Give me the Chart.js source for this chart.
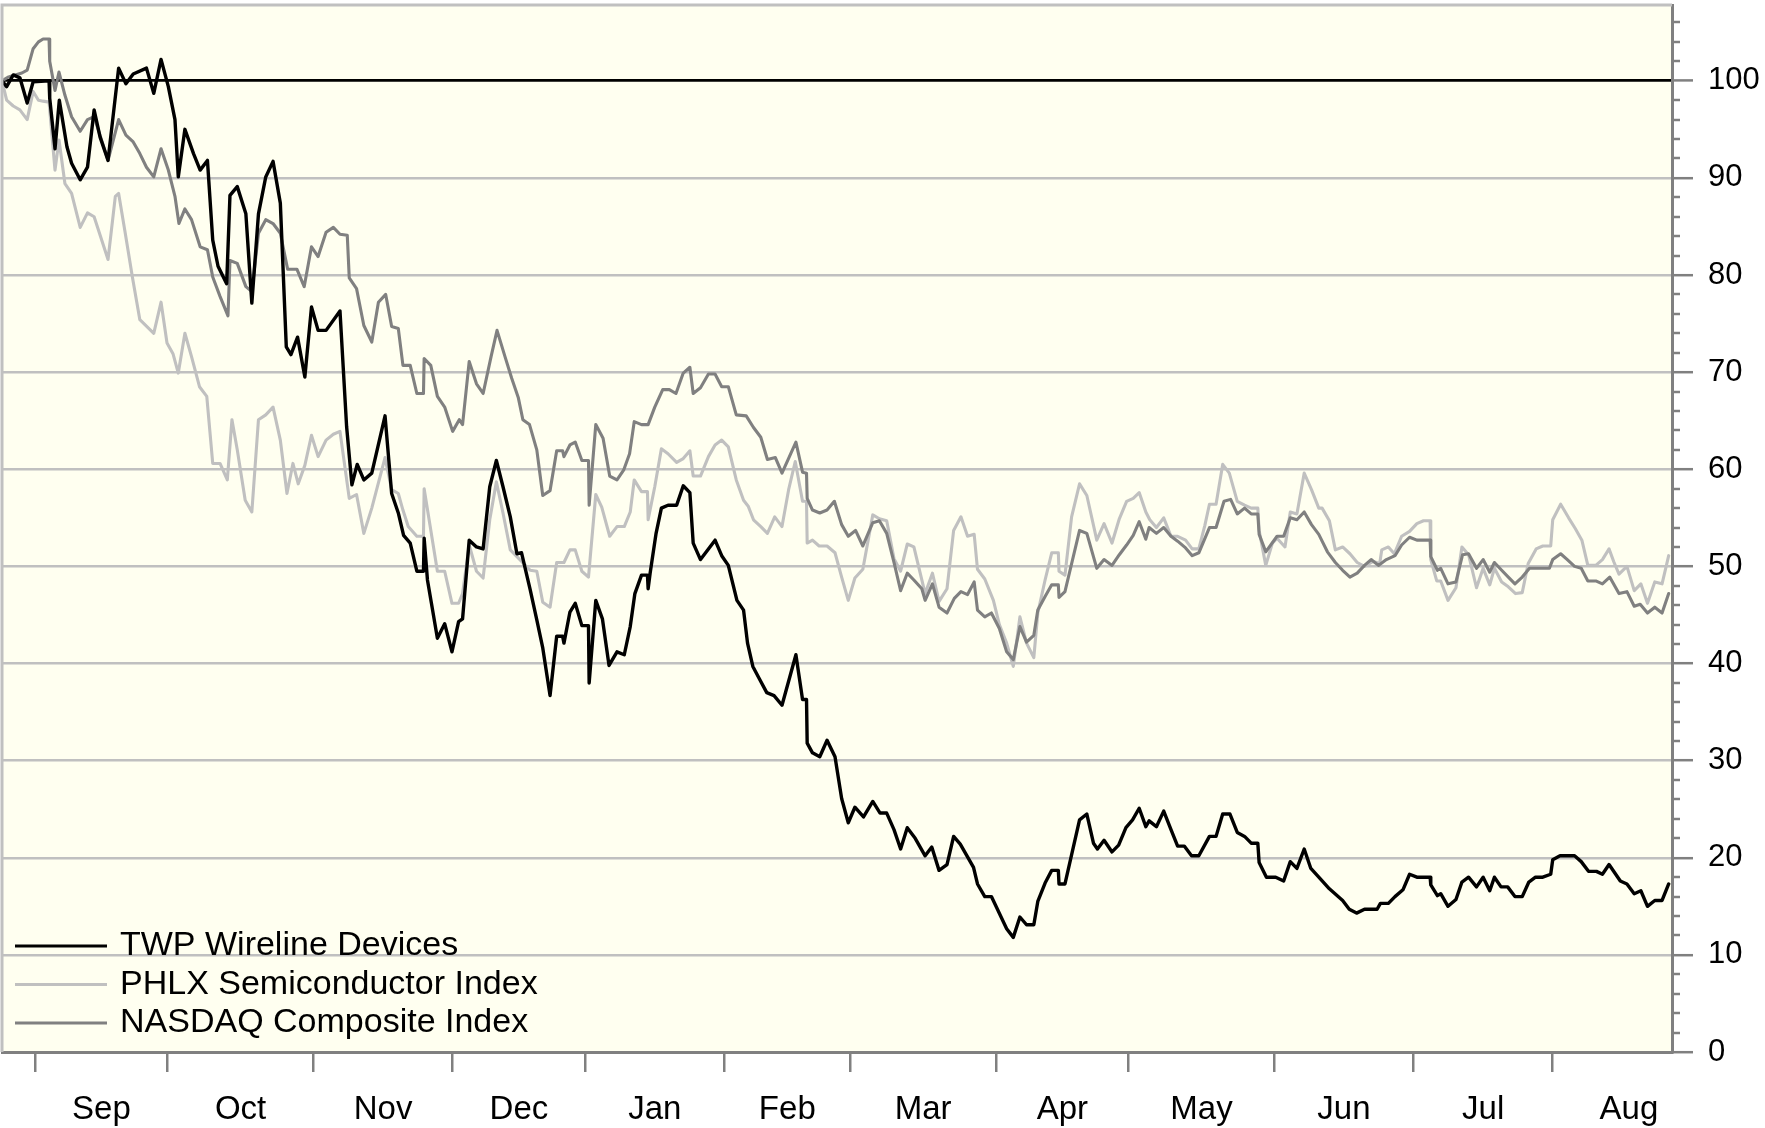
<!DOCTYPE html>
<html>
<head>
<meta charset="utf-8">
<script src="https://cdn.jsdelivr.net/npm/chart.js"></script>
<style>
  html, body { margin: 0; padding: 0; background: #ffffff; }
  #wrap { width: 1765px; height: 1128px; }
</style>
</head>
<body>
<div id="wrap"><canvas id="perfChart"></canvas></div>
<script>
// x = trading day since Aug 25 (day 0), y = indexed value (start = 100)
const monthNames = ['Sep', 'Oct', 'Nov', 'Dec', 'Jan', 'Feb', 'Mar', 'Apr', 'May', 'Jun', 'Jul', 'Aug'];
const monthStarts = [5, 25, 47, 68, 88, 109, 128, 150, 170, 192, 213, 234];
const monthEnd = 257;
const yTickValues = [0, 10, 20, 30, 40, 50, 60, 70, 80, 90, 100];
const seriesNames = ['TWP Wireline Devices', 'PHLX Semiconductor Index', 'NASDAQ Composite Index'];

const twpPoints = [
  [0,100],[0.7,99.4],[1.7,100.6],[2.7,100.3],[3.8,97.7],[4.7,99.9],[7.1,100],[7.2,98.2],[8.0,93],[8.65,98.0],
  [9.8,93.2],[10.5,91.5],[11.8,89.8],[12.9,91.1],[13.9,97.0],[14.8,94.2],[16.0,91.8],[17.6,101.3],[18.7,99.7],[19.8,100.7],
  [21.8,101.3],[22.9,98.7],[24.0,102.2],[25.1,99.4],[26.1,96.0],[26.6,90.1],[27.6,95.0],[28.9,92.5],[29.9,90.8],[31.0,91.8],
  [31.8,83.6],[32.6,80.9],[33.9,79.1],[34.4,88.2],[35.5,89.1],[36.8,86.3],[37.7,77.1],[38.7,86.3],[39.8,90.1],[40.9,91.7],
  [42.0,87.4],[42.9,72.6],[43.6,71.8],[44.6,73.6],[45.7,69.5],[46.7,76.7],[47.7,74.3],[48.9,74.3],[51.0,76.3],[52.0,64.4],
  [52.8,58.4],[53.6,60.5],[54.6,58.9],[55.8,59.6],[57.8,65.5],[58.8,57.5],[59.8,55.5],[60.6,53.2],[61.6,52.4],[62.6,49.5],
  [63.6,49.5],[63.7,52.9],[64.2,48.6],[64.8,46.2],[65.7,42.6],[66.8,44.1],[67.9,41.2],[68.9,44.3],[69.5,44.6],[70.5,52.7],
  [71.6,52.0],[72.6,51.8],[73.6,58.2],[74.6,60.9],[75.6,58.2],[76.7,55.1],[77.7,51.3],[78.4,51.4],[79.7,47.6],[80.7,44.5],
  [81.6,41.6],[82.7,36.7],[83.7,42.8],[84.6,42.8],[84.8,42.1],[85.7,45.3],[86.5,46.2],[87.5,43.9],[88.5,43.9],[88.6,38.0],
  [89.6,46.5],[90.6,44.6],[91.6,39.8],[92.8,41.2],[93.9,40.9],[94.8,43.8],[95.5,47.2],[96.5,49.1],[97.4,49.1],[97.5,47.7],
  [97.8,49.3],[98.7,53.4],[99.5,56.0],[100.5,56.3],[101.8,56.3],[102.8,58.3],[103.8,57.6],[104.3,52.4],[105.4,50.7],[106.6,51.8],
  [107.6,52.7],[108.6,51.1],[109.6,50.1],[110.9,46.5],[111.9,45.5],[112.5,42.1],[113.3,39.7],[114.3,38.4],[115.4,37.0],[116.5,36.7],
  [117.7,35.7],[119.8,40.9],[120.8,36.3],[121.4,36.3],[121.5,31.8],[122.3,30.8],[123.4,30.4],[124.5,32.1],[125.7,30.4],[126.7,26.1],
  [127.7,23.6],[128.7,25.2],[130.0,24.2],[131.4,25.8],[132.5,24.6],[133.5,24.6],[134.6,22.9],[135.6,20.9],[136.6,23.1],[137.8,22.0],
  [139.3,20.2],[140.3,21.1],[141.4,18.7],[142.6,19.3],[143.6,22.2],[144.6,21.4],[146.6,19.0],[147.2,17.3],[148.3,16.0],[149.3,16.0],
  [151.6,12.7],[152.6,11.8],[153.6,13.9],[154.6,13.1],[155.7,13.1],[156.3,15.5],[157.4,17.4],[158.4,18.7],[159.4,18.7],[159.5,17.3],
  [160.4,17.3],[162.6,23.9],[163.7,24.5],[164.7,21.5],[165.3,20.9],[166.3,21.8],[167.5,20.6],[168.5,21.3],[169.6,23.1],[170.6,23.9],
  [171.6,25.1],[172.6,23.2],[173.1,23.8],[174.2,23.2],[175.3,24.8],[176.4,22.9],[177.4,21.2],[178.4,21.2],[179.5,20.2],[180.6,20.2],
  [182.2,22.2],[183.2,22.2],[184.2,24.5],[185.3,24.5],[186.4,22.6],[187.5,22.2],[188.5,21.5],[189.5,21.5],[189.7,19.5],[190.8,18.0],
  [192.2,18.0],[193.4,17.6],[194.4,19.6],[195.4,18.9],[196.5,20.9],[197.5,18.9],[198.7,18.0],[200.3,16.8],[202.3,15.6],[203.3,14.7],
  [204.4,14.3],[205.6,14.7],[207.5,14.7],[208.0,15.3],[209.2,15.3],[210.2,16.0],[211.4,16.7],[212.4,18.3],[213.5,18.0],[215.5,18.0],
  [215.6,17.2],[216.6,16.1],[217.1,16.3],[218.2,15.0],[219.4,15.7],[220.3,17.5],[221.3,18.0],[222.5,17.0],[223.5,18.0],[224.5,16.6],
  [225.2,18.0],[226.2,17.0],[227.2,17.0],[228.3,16.0],[229.4,16.0],[230.4,17.5],[231.4,18.0],[232.5,18.0],[233.7,18.3],[234.0,19.8],
  [235.1,20.2],[237.3,20.2],[238.3,19.6],[239.4,18.6],[240.6,18.6],[241.5,18.3],[242.5,19.3],[244.2,17.6],[245.2,17.3],[246.3,16.3],
  [247.3,16.6],[248.3,15.0],[249.4,15.6],[250.5,15.6],[251.5,17.3]
];

const phlxPoints = [
  [0,100],[0.7,98.0],[1.7,97.4],[2.7,97.0],[3.8,96.0],[4.7,98.9],[5.5,98.0],[6.2,97.9],[7.1,97.8],[8.0,90.8],
  [8.6,93.9],[9.5,89.4],[10.5,88.4],[11.8,84.9],[12.9,86.4],[13.9,86.0],[16.0,81.6],[17.1,88.1],[17.6,88.4],[18.6,84.3],
  [19.7,79.7],[20.8,75.4],[22.9,74.0],[24.0,77.2],[24.9,73.0],[25.8,71.9],[26.6,69.9],[27.6,74.0],[28.6,71.6],[29.8,68.5],
  [30.9,67.5],[31.8,60.6],[32.9,60.6],[34.0,58.9],[34.7,65.1],[35.5,62.0],[36.7,56.8],[37.7,55.6],[38.7,65.1],[39.8,65.6],
  [40.9,66.4],[42.0,63.0],[43.0,57.5],[43.9,60.6],[44.7,58.5],[45.7,60.4],[46.7,63.5],[47.7,61.3],[48.9,63.0],[50.0,63.6],
  [51.0,63.9],[52.4,57.0],[53.5,57.4],[54.6,53.4],[55.8,56.0],[57.8,61.2],[58.8,57.9],[59.8,57.5],[60.5,55.8],[61.3,54.1],
  [62.6,53.1],[63.6,53.1],[63.7,58.0],[65.7,49.5],[66.8,49.5],[67.9,46.2],[68.9,46.2],[69.5,47.2],[70.5,52.2],[71.6,49.5],
  [72.6,48.8],[73.6,54.8],[74.6,58.7],[75.6,55.5],[76.7,51.7],[77.7,51.0],[78.7,50.3],[79.7,49.6],[80.7,49.5],[81.6,46.3],
  [82.7,45.8],[83.7,50.4],[84.8,50.4],[85.7,51.7],[86.5,51.7],[87.5,49.5],[88.5,48.9],[89.6,57.4],[90.5,56.1],[91.7,53.1],
  [92.8,54.1],[93.9,54.1],[94.8,55.6],[95.4,58.9],[96.5,57.7],[97.4,57.7],[97.5,54.8],[98.5,58.2],[99.5,62.1],[100.5,61.6],
  [101.8,60.7],[102.8,61.1],[103.8,61.9],[104.3,59.3],[105.4,59.3],[106.6,61.3],[107.6,62.5],[108.6,63.0],[109.6,62.3],[110.8,58.9],
  [111.9,56.8],[112.6,56.2],[113.4,54.8],[114.5,54.1],[115.5,53.4],[116.6,55.1],[117.7,54.1],[118.7,57.9],[119.7,60.8],[120.8,56.7],
  [121.4,56.7],[121.5,52.4],[122.3,52.7],[123.3,52.1],[124.5,52.1],[125.7,51.4],[126.7,48.9],[127.7,46.5],[128.7,48.8],[129.9,49.7],
  [131.4,55.3],[132.4,54.9],[133.5,54.7],[134.6,50.8],[135.6,49.5],[136.6,52.3],[137.6,52.0],[138.8,48.6],[139.3,47.2],[140.4,49.3],
  [141.4,46.4],[142.6,47.7],[143.6,53.7],[144.7,55.1],[145.7,53.1],[146.7,53.3],[147.2,49.7],[148.3,48.7],[149.6,46.5],[150.5,44.0],
  [151.6,42.1],[152.6,39.7],[153.6,44.8],[154.6,42.1],[155.7,40.6],[156.3,45.2],[157.4,48.6],[158.4,51.4],[159.4,51.4],[159.5,49.5],
  [160.4,49.1],[161.4,55.1],[162.6,58.5],[163.7,57.3],[165.2,52.7],[166.3,54.4],[167.5,52.4],[168.6,54.9],[169.7,56.7],[170.7,57.0],
  [171.6,57.6],[172.6,55.6],[173.2,54.8],[174.2,54.0],[175.3,55.0],[176.4,53.1],[177.4,53.1],[178.6,52.7],[179.6,51.8],[180.6,51.8],
  [181.5,54.2],[182.2,56.4],[183.2,56.4],[184.2,60.5],[185.2,59.6],[186.4,56.7],[187.5,56.3],[188.5,56.0],[189.5,56.0],[189.7,53.7],
  [190.7,50.1],[191.7,52.4],[192.4,52.9],[193.6,52.0],[194.4,55.6],[195.4,55.4],[196.5,59.6],[197.6,57.9],[198.7,56.0],[199.2,56.0],
  [200.3,54.7],[201.2,51.7],[202.3,52.0],[203.4,51.3],[204.5,50.4],[205.6,50.0],[206.9,50.5],[207.9,50.3],[208.2,51.7],[209.2,52.0],
  [210.1,51.3],[211.2,53.1],[212.4,53.6],[213.5,54.4],[214.5,54.7],[215.5,54.7],[215.6,50.7],[216.5,48.5],[217.1,48.5],[218.2,46.5],
  [219.4,47.8],[220.3,52.0],[221.3,51.2],[222.5,47.8],[223.5,49.8],[224.5,48.1],[225.2,49.8],[226.3,48.4],[227.3,47.9],[228.4,47.2],
  [229.4,47.3],[230.3,50.3],[231.5,51.8],[232.5,52.1],[233.7,52.1],[234.0,54.8],[235.2,56.4],[236.4,55.0],[237.4,53.9],[238.4,52.7],
  [239.3,50.1],[240.5,50.1],[241.5,50.7],[242.5,51.8],[243.2,50.5],[244.0,49.2],[245.2,50.0],[246.3,47.5],[247.3,48.2],[248.3,46.2],
  [249.4,48.4],[250.5,48.2],[251.5,51.1]
];

const nasdaqPoints = [
  [0,100],[1.0,100.4],[2.0,100.6],[3.0,100.8],[3.8,101.1],[4.7,103.3],[5.5,104.0],[6.2,104.3],[7.1,104.3],[7.2,102.0],
  [8.0,99.0],[8.6,100.9],[9.5,98.5],[10.5,96.3],[11.8,94.8],[12.9,96.0],[13.9,96.3],[16.0,91.8],[17.6,96.0],[18.7,94.4],
  [19.8,93.7],[20.8,92.5],[21.8,91.1],[22.9,90.1],[24.0,93.0],[25.1,90.8],[26.1,88.1],[26.7,85.3],[27.6,86.8],[28.6,85.7],
  [29.9,82.9],[31.0,82.6],[31.8,79.8],[32.9,77.8],[34.1,75.8],[34.4,81.5],[35.5,81.2],[36.8,78.8],[37.7,78.3],[38.7,84.3],
  [39.8,85.7],[40.9,85.3],[42.0,84.3],[43.1,80.6],[44.5,80.6],[45.6,78.8],[46.7,82.9],[47.7,81.9],[48.9,84.4],[50.0,84.9],
  [51.0,84.2],[52.1,84.1],[52.4,79.7],[53.5,78.6],[54.6,74.8],[55.8,73.1],[56.8,77.2],[57.9,78.0],[58.8,74.7],[59.8,74.5],
  [60.5,70.7],[61.6,70.7],[62.6,67.8],[63.6,67.8],[63.7,71.4],[64.7,70.7],[65.7,67.5],[66.8,66.4],[68.0,63.9],[69.0,65.1],
  [69.5,64.6],[70.5,71.1],[71.6,68.8],[72.6,67.8],[73.8,71.6],[74.7,74.3],[75.9,71.6],[76.9,69.4],[77.9,67.4],[78.6,65.1],
  [79.6,64.6],[80.7,62.0],[81.6,57.3],[82.7,57.8],[83.7,61.9],[84.6,61.9],[84.8,61.3],[85.7,62.5],[86.5,62.8],[87.5,60.9],
  [88.5,60.9],[88.6,56.3],[89.6,64.6],[90.7,63.2],[91.7,59.3],[92.8,58.9],[93.8,59.9],[94.7,61.6],[95.4,64.9],[96.5,64.6],
  [97.5,64.6],[98.5,66.4],[99.7,68.2],[100.7,68.2],[101.7,67.8],[102.8,69.9],[103.8,70.5],[104.3,67.8],[105.4,68.4],[106.6,69.8],
  [107.6,69.8],[108.6,68.5],[109.6,68.5],[110.8,65.6],[112.3,65.5],[113.4,64.3],[114.5,63.3],[115.5,61.0],[116.7,61.2],[117.7,59.6],
  [119.8,62.8],[120.8,59.7],[121.4,59.6],[121.5,57.0],[122.3,55.8],[123.4,55.5],[124.5,55.8],[125.6,56.7],[126.7,54.3],[127.7,53.1],
  [128.8,53.7],[129.9,52.1],[131.4,54.5],[132.4,54.7],[133.5,53.4],[134.6,50.4],[135.6,47.5],[136.6,49.3],[137.6,48.6],[138.8,47.7],
  [139.3,46.5],[140.4,48.2],[141.4,45.8],[142.6,45.2],[143.7,46.7],[144.7,47.4],[145.7,47.1],[146.7,48.4],[147.2,45.5],[148.3,44.8],
  [149.3,45.2],[150.5,43.6],[151.6,41.2],[152.6,40.4],[153.6,43.8],[154.6,42.2],[155.7,42.9],[156.3,45.5],[157.4,46.9],[158.4,48.1],
  [159.4,48.1],[159.5,46.8],[160.4,47.4],[162.6,53.7],[163.7,53.4],[165.2,49.8],[166.3,50.7],[167.5,50.1],[168.6,51.2],[169.7,52.2],
  [170.7,53.2],[171.6,54.6],[172.6,52.8],[173.1,54.0],[174.2,53.4],[175.3,54.0],[176.4,53.1],[177.4,52.6],[178.6,51.9],[179.6,51.1],
  [180.6,51.4],[182.2,54.0],[183.2,54.0],[184.4,56.7],[185.4,56.9],[186.4,55.4],[187.5,56.0],[188.5,55.4],[189.5,55.4],[189.7,53.3],
  [190.7,51.5],[192.4,53.1],[193.4,53.1],[194.4,55.0],[195.4,54.8],[196.5,55.6],[197.6,54.3],[198.7,53.3],[200.0,51.5],[201.2,50.4],
  [202.3,49.6],[203.4,48.9],[204.5,49.3],[205.6,50.1],[206.6,50.7],[207.7,50.1],[208.9,50.7],[210.2,51.1],[211.2,52.2],[212.4,53.0],
  [213.5,52.7],[215.5,52.7],[215.6,51.0],[216.6,49.6],[217.1,49.8],[218.2,48.2],[219.4,48.4],[220.4,51.2],[221.3,51.3],[222.5,49.8],
  [223.5,50.7],[224.5,49.4],[225.2,50.4],[226.3,49.6],[227.3,48.9],[228.3,48.2],[229.4,48.9],[230.5,49.8],[233.5,49.8],[234.0,50.7],
  [235.2,51.3],[236.2,50.7],[237.3,50.0],[238.3,49.8],[239.3,48.5],[240.5,48.5],[241.5,48.2],[242.6,48.9],[244.0,47.2],[245.2,47.4],
  [246.3,45.9],[247.2,46.1],[248.3,45.2],[249.4,45.8],[250.5,45.2],[251.5,47.2]
];

const FONT = "'Liberation Sans', Arial, Helvetica, sans-serif";
const toXY = pts => pts.map(p => ({ x: p[0], y: p[1] }));

// ivory plot background + light grey frame on the left and top
const plotFrame = {
  id: 'plotFrame',
  beforeDraw(chart) {
    const { ctx, chartArea: a } = chart;
    ctx.save();
    ctx.fillStyle = '#fffff0';
    ctx.fillRect(a.left, a.top, a.right - a.left, a.bottom - a.top);
    ctx.restore();
  },
  afterDraw(chart) {
    const { ctx, chartArea: a } = chart;
    ctx.save();
    ctx.strokeStyle = '#c0c0c0';
    ctx.lineWidth = 3;
    ctx.beginPath();
    ctx.moveTo(a.left, a.bottom);
    ctx.lineTo(a.left, a.top);
    ctx.lineTo(a.right, a.top);
    ctx.stroke();
    ctx.restore();
  }
};

// small ticks every 2 units on the right axis
const minorTicks = {
  id: 'minorTicks',
  afterDraw(chart) {
    const { ctx, chartArea: a } = chart;
    const y = chart.scales.y;
    ctx.save();
    ctx.strokeStyle = '#808080';
    ctx.lineWidth = 2.5;
    for (let v = 2; v <= y.max; v += 2) {
      if (v % 10 === 0) continue;
      const py = Math.round(y.getPixelForValue(v));
      ctx.beginPath();
      ctx.moveTo(a.right, py);
      ctx.lineTo(a.right + 8, py);
      ctx.stroke();
    }
    ctx.restore();
  }
};

// legend inside the plot, bottom left
const insideLegend = {
  id: 'insideLegend',
  afterDraw(chart) {
    const { ctx, chartArea: a } = chart;
    const rows = [0, 1, 2].map(i => chart.data.datasets.find(d => d.label === seriesNames[i]));
    ctx.save();
    ctx.font = '34px ' + FONT;
    ctx.textBaseline = 'middle';
    ctx.fillStyle = '#000';
    rows.forEach((ds, i) => {
      const y = a.bottom - 106 + i * 38.5;
      ctx.strokeStyle = ds.borderColor;
      ctx.lineWidth = 3.2;
      ctx.beginPath();
      ctx.moveTo(a.left + 13, y);
      ctx.lineTo(a.left + 105, y);
      ctx.stroke();
      ctx.fillText(ds.label, a.left + 118, y);
    });
    ctx.restore();
  }
};

const ctx = document.getElementById('perfChart').getContext('2d');
new Chart(ctx, {
  type: 'line',
  data: {
    datasets: [
      { label: seriesNames[0], data: toXY(twpPoints), borderColor: '#000000', borderWidth: 3.4, order: 0 },
      { label: seriesNames[1], data: toXY(phlxPoints), borderColor: '#c0c0c0', borderWidth: 3.1, order: 2 },
      { label: seriesNames[2], data: toXY(nasdaqPoints), borderColor: '#808080', borderWidth: 3.1, order: 1 }
    ]
  },
  options: {
    responsive: true,
    maintainAspectRatio: false,
    animation: false,
    devicePixelRatio: 1,
    layout: { padding: { left: 2, top: 5, right: 0, bottom: 0 } },
    elements: {
      point: { radius: 0, hoverRadius: 0 },
      line: { tension: 0, borderJoinStyle: 'round', borderCapStyle: 'round', fill: false }
    },
    plugins: {
      legend: { display: false },
      tooltip: { enabled: false }
    },
    scales: {
      x: {
        type: 'linear',
        position: 'bottom',
        weight: 0,
        min: 0,
        max: 252,
        afterBuildTicks: s => { s.ticks = monthStarts.map(v => ({ value: v })); },
        afterFit: s => { s.height = 20; s.paddingLeft = 0; s.paddingRight = 0; },
        grid: { drawOnChartArea: false, drawTicks: true, tickLength: 20, color: '#808080', lineWidth: 2.5 },
        border: { color: '#808080', width: 3 },
        ticks: { display: false }
      },
      months: {
        type: 'linear',
        position: 'bottom',
        weight: 1,
        min: 0,
        max: 252,
        afterBuildTicks: s => {
          s.ticks = monthStarts.map((m, i) => ({ value: (m + (monthStarts[i + 1] || monthEnd)) / 2 }));
        },
        afterFit: s => { s.height = 56; s.paddingLeft = 0; s.paddingRight = 0; },
        grid: { display: false },
        border: { display: false },
        ticks: {
          autoSkip: false,
          maxRotation: 0,
          padding: 10,
          color: '#000',
          font: { family: FONT, size: 33 },
          callback: (v, i) => monthNames[i]
        }
      },
      y: {
        type: 'linear',
        position: 'right',
        min: 0,
        max: 107.8,
        afterBuildTicks: s => { s.ticks = yTickValues.map(v => ({ value: v })); },
        afterFit: s => { s.width = 93; s.paddingTop = 0; s.paddingBottom = 0; },
        grid: {
          drawOnChartArea: true,
          tickLength: 21,
          color: c => c.tick && c.tick.value === 100 ? '#000000' : (c.tick && c.tick.value === 0 ? 'rgba(0,0,0,0)' : '#c0c0c0'),
          lineWidth: c => c.tick && c.tick.value === 100 ? 2.8 : 2.4,
          tickColor: '#808080',
          tickWidth: 2.5
        },
        border: { color: '#808080', width: 3 },
        ticks: {
          padding: 15,
          color: '#000',
          font: { family: FONT, size: 31 }
        }
      }
    }
  },
  plugins: [plotFrame, minorTicks, insideLegend]
});
</script>
</body>
</html>
